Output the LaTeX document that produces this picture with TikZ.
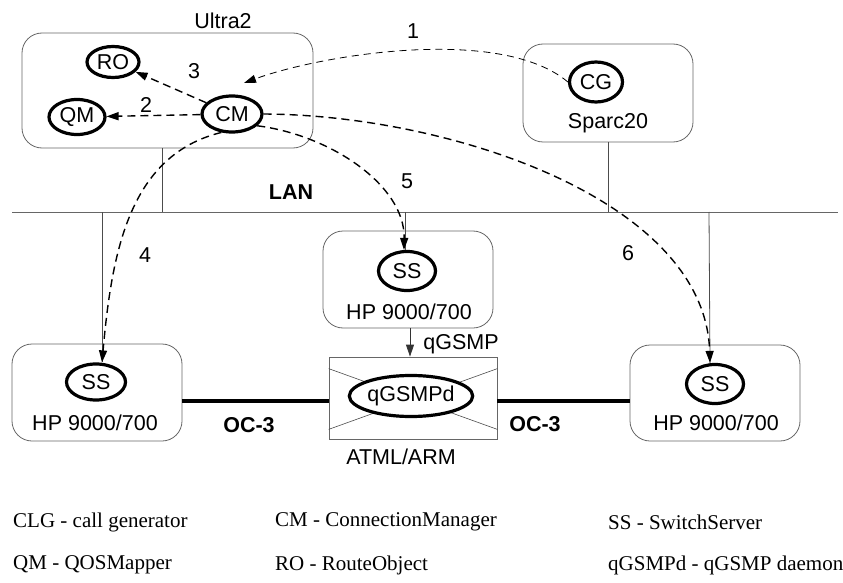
\documentclass[tikz,border=0pt]{standalone}
\usepackage{fontspec}
\setmainfont{Liberation Sans}
\newfontfamily\legendfont{Liberation Serif}
\usetikzlibrary{arrows.meta,shapes.geometric}
\begin{document}
\begin{tikzpicture}[x=1pt,y=-1pt,
  font=\fontsize{21.5}{24}\selectfont,
  hostbox/.style={draw=black!60,line width=0.8pt,rounded corners=20pt,inner sep=0pt},
  proc/.style={ellipse,draw=black,line width=3.2pt,inner sep=0pt,fill=white},
  dsh/.style={dash pattern=on 8pt off 5pt,line width=1.4pt},
  dshthin/.style={dash pattern=on 7pt off 5pt,line width=0.8pt},
  tipd/.style={-{Triangle[length=12pt,width=8pt]}},
  wire/.style={draw=black!70,line width=0.8pt},
  ocline/.style={line width=3.5pt},
  legend/.style={anchor=west,font=\legendfont\fontsize{21}{24}\selectfont,inner sep=0pt},
  plain/.style={inner sep=0pt}
]
\useasboundingbox (0,0) rectangle (843,583);

% host boxes
\node[hostbox,minimum width=291pt,minimum height=115pt] (ultra) at (167.5,90.5) {};
\node[hostbox,minimum width=170pt,minimum height=98pt] (sparc) at (608,93) {};
\node[hostbox,minimum width=170pt,minimum height=97pt] (hpmid) at (408,279.5) {};
\node[hostbox,minimum width=170pt,minimum height=97pt] (hpl) at (97,392.5) {};
\node[hostbox,minimum width=170pt,minimum height=96pt] (hpr) at (715,393) {};
\node[draw=black!60,line width=0.8pt,minimum width=168pt,minimum height=82pt,inner sep=0pt] (atml) at (413,398) {};

% X inside switch box
\draw[black!70,line width=0.6pt] ([yshift=-12pt]atml.north west) -- ([yshift=10pt]atml.south east);
\draw[black!70,line width=0.6pt] ([yshift=10pt]atml.south west) -- ([yshift=-12pt]atml.north east);

% LAN
\coordinate (lanL) at (12,212);
\coordinate (lanR) at (838,212);
\draw[draw=black!60,line width=1pt] (lanL) -- (lanR);
\coordinate (lanU) at (162,212);
\coordinate (lanS) at (608,212);
\coordinate (lan1) at (102,212);
\coordinate (lan2) at (405,212);
\coordinate (lan3) at (709,212);

% processes
\node[proc,minimum width=52pt,minimum height=31pt] (ro) at (113,62) {RO};
\node[proc,minimum width=56pt,minimum height=35pt] (qm) at (77,117) {QM};
\node[proc,minimum width=60pt,minimum height=36pt] (cm) at (232,114) {CM};
\node[proc,minimum width=53pt,minimum height=40pt] (cg) at (596,82) {CG};
\node[proc,minimum width=57pt,minimum height=39pt] (ss2) at (407,271) {SS};
\node[proc,minimum width=59pt,minimum height=36pt] (ss1) at (96,382) {SS};
\node[proc,minimum width=57pt,minimum height=39pt] (ss3) at (715,384) {SS};
\node[proc,minimum width=121pt,minimum height=41pt] (qd) at (411,396) {qGSMPd};

% texts
\node[plain] (ultralbl) at (223,21) {Ultra2};
\node[plain] (sparclbl) at (608,123) {Sparc20};
\node[plain] (hpmidlbl) at (409,312) {HP 9000/700};
\node[plain] (hpllbl) at (95,423) {HP 9000/700};
\node[plain] (hprlbl) at (716,423) {HP 9000/700};
\node[plain] (atmllbl) at (401,457) {ATML/ARM};
\node[plain] (qgsmplbl) at (461,344) {qGSMP};
\node[plain,font=\fontsize{21.5}{24}\selectfont\bfseries] (lanlbl) at (291,192) {LAN};
\node[plain,font=\fontsize{21.5}{24}\selectfont\bfseries] (oc1) at (249,425) {OC-3};
\node[plain,font=\fontsize{21.5}{24}\selectfont\bfseries] (oc2) at (535,424) {OC-3};
\node[plain] (n1) at (413,31) {1};
\node[plain] (n2) at (146,105) {2};
\node[plain] (n3) at (194,71) {3};
\node[plain] (n4) at (145,255) {4};
\node[plain] (n5) at (407,181) {5};
\node[plain] (n6) at (628,253) {6};

% wires to LAN
\draw[wire] (ultra.south -| lanU) -- (lanU);
\draw[wire] (sparc.south) -- (lanS);
\draw[wire] (lan1) -- ([xshift=6pt]ss1.north);
\draw[wire] (lan2) -- ([xshift=-2pt]ss2.north);
\draw[wire] (lan3) -- ([xshift=-5pt]ss3.north);

% qGSMP arrow
\draw[black!80,line width=0.8pt,tipd] (hpmid.south -| 410,0) -- (atml.north -| 410,0);

% OC-3 links
\coordinate (ocy) at (0,401);
\draw[ocline] (hpl.east |- ocy) -- (atml.west |- ocy);
\draw[ocline] (atml.east |- ocy) -- (hpr.west |- ocy);

% dashed messages
\coordinate (t1) at (244,83);
\draw[dshthin,tipd] (cg.west) .. controls (500,25) and (320,55) .. (t1);
\draw[dsh,tipd] (cm) -- (qm);
\draw[dsh,tipd] (cm) -- (ro);
\draw[dsh,tipd] (cm.240) .. controls (130,155) and (112,250) .. ([xshift=6pt]ss1.north);
\draw[dsh,tipd] (cm.-25) .. controls (330,135) and (405,185) .. ([xshift=-3pt]ss2.north);
\draw[dsh,tipd] (cm.east) .. controls (450,115) and (705,200) .. ([xshift=-5pt]ss3.north);

% legend
\node[legend] (lg1) at (13,522) {CLG - call generator};
\node[legend] (lg2) at (275,522) {CM - ConnectionManager};
\node[legend] (lg3) at (608,522) {SS - SwitchServer};
\node[legend] (lg4) at (13,565) {QM - QOSMapper};
\node[legend] (lg5) at (275,565) {RO - RouteObject};
\node[legend] (lg6) at (608,565) {qGSMPd - qGSMP daemon};
\end{tikzpicture}
\end{document}
